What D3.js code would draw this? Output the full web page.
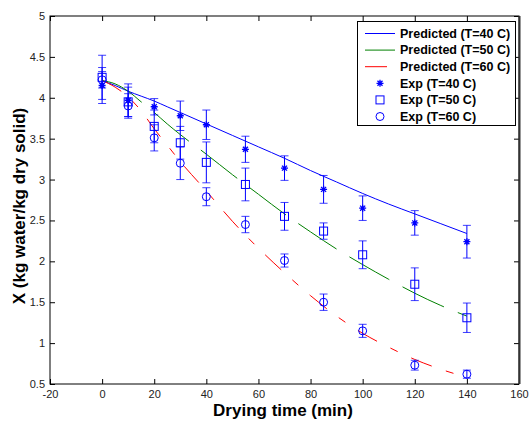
<!DOCTYPE html>
<html>
<head>
<meta charset="utf-8">
<script src="https://cdn.jsdelivr.net/npm/d3@7"></script>
<style>
  body { margin: 0; background: #fff; }
  svg { display: block; font-family: "Liberation Sans", Arial, sans-serif; }
</style>
</head>
<body>
<div id="chart"></div>
<script>
// experimental times (min)
const expTimes = [0, 10, 20, 30, 40, 55, 70, 85, 100, 120, 140];
const exp40 = [4.15, 3.97, 3.89, 3.78, 3.67, 3.37, 3.14, 2.88, 2.65, 2.47, 2.24];
const err40 = [0.22, 0.20, 0.10, 0.18, 0.18, 0.16, 0.15, 0.17, 0.15, 0.15, 0.20];
const exp50 = [4.25, 3.95, 3.65, 3.45, 3.21, 2.94, 2.55, 2.37, 2.08, 1.72, 1.31];
const err50 = [0.27, 0.18, 0.20, 0.20, 0.25, 0.20, 0.17, 0.10, 0.17, 0.20, 0.18];
const exp60 = [4.22, 3.90, 3.51, 3.20, 2.79, 2.45, 2.01, 1.50, 1.15, 0.73, 0.62];
const err60 = [0.10, 0.15, 0.16, 0.20, 0.11, 0.10, 0.08, 0.10, 0.08, 0.06, 0.05];

// model curves
const predTimes = [0, 5, 10, 15, 20, 25, 30, 40, 50, 60, 70, 80, 90, 100, 110, 120, 130, 140];
const pred40 = [4.21, 4.15, 4.08, 4.02, 3.96, 3.89, 3.82, 3.68, 3.54, 3.40, 3.26, 3.11, 2.97, 2.83, 2.70, 2.58, 2.46, 2.34];
const pred50 = [4.21, 4.17, 4.08, 3.95, 3.82, 3.68, 3.55, 3.31, 3.06, 2.82, 2.58, 2.36, 2.15, 1.96, 1.78, 1.61, 1.46, 1.33];
const predTimes60 = [0, 5, 10, 15, 20, 25, 30, 40, 50, 60, 70, 80, 90, 100, 110, 120, 130, 138];
const pred60 = [4.21, 4.13, 4.01, 3.84, 3.62, 3.42, 3.22, 2.86, 2.49, 2.16, 1.86, 1.58, 1.33, 1.12, 0.95, 0.80, 0.68, 0.60];

const xTicks = [-20, 0, 20, 40, 60, 80, 100, 120, 140, 160];
const yTicks = [0.5, 1, 1.5, 2, 2.5, 3, 3.5, 4, 4.5, 5];

const legendLabels = ["Predicted (T=40 C)", "Predicted (T=50 C)", "Predicted (T=60 C)",
  "Exp (T=40 C)", "Exp (T=50 C)", "Exp (T=60 C)"];

const W = 529, H = 421;
const plot = { left: 50, right: 519, top: 16, bottom: 384 };

const svg = d3.select("#chart").append("svg")
  .attr("width", W).attr("height", H);

const x = d3.scaleLinear().domain([-20, 160]).range([plot.left, plot.right]);
const y = d3.scaleLinear().domain([0.5, 5]).range([plot.bottom, plot.top]);

const blue = "#0000ff", green = "#008000", red = "#ff0000";

// axes (MATLAB style, ticks inward)
const fmt = d => String(d);
svg.append("g")
  .attr("transform", `translate(0,${plot.bottom})`)
  .call(d3.axisBottom(x).tickValues(xTicks).tickSizeInner(-5).tickSizeOuter(0).tickPadding(6).tickFormat(fmt))
  .call(g => g.select(".domain").remove());
svg.append("g")
  .attr("transform", `translate(0,${plot.top})`)
  .call(d3.axisTop(x).tickValues(xTicks).tickSizeInner(-5).tickSizeOuter(0).tickFormat(""))
  .call(g => g.select(".domain").remove());
svg.append("g")
  .attr("transform", `translate(${plot.left},0)`)
  .call(d3.axisLeft(y).tickValues(yTicks).tickSizeInner(-5).tickSizeOuter(0).tickPadding(5).tickFormat(fmt))
  .call(g => g.select(".domain").remove());
svg.append("g")
  .attr("transform", `translate(${plot.right},0)`)
  .call(d3.axisRight(y).tickValues(yTicks).tickSizeInner(-5).tickSizeOuter(0).tickFormat(""))
  .call(g => g.select(".domain").remove());

svg.selectAll(".tick text").attr("font-size", 11).attr("fill", "#222")
  .attr("font-family", "Liberation Sans, Arial, sans-serif");
svg.selectAll(".tick line").attr("stroke", "#000");

// frame
svg.append("rect")
  .attr("x", plot.left).attr("y", plot.top)
  .attr("width", plot.right - plot.left).attr("height", plot.bottom - plot.top)
  .attr("fill", "none").attr("stroke", "#000").attr("stroke-width", 1);
svg.append("line")
  .attr("x1", plot.right + 0.5).attr("x2", plot.right + 0.5)
  .attr("y1", plot.top).attr("y2", plot.bottom)
  .attr("stroke", "#333").attr("stroke-width", 2);

// model lines
const line = d3.line().curve(d3.curveMonotoneX);
function drawLine(ts, vs, color, dash) {
  svg.append("path")
    .attr("d", line(ts.map((t, i) => [x(t), y(vs[i])])))
    .attr("fill", "none").attr("stroke", color).attr("stroke-width", 1)
    .attr("stroke-dasharray", dash);
}
drawLine(predTimes, pred40, blue, null);
drawLine(predTimes, pred50, green, "46,15");
drawLine(predTimes60, pred60, red, "22,15,8,15");

// markers
function starPath(cx, cy, r) {
  const d = r * 0.72;
  return `M${cx - r},${cy}L${cx + r},${cy}M${cx},${cy - r}L${cx},${cy + r}` +
    `M${cx - d},${cy - d}L${cx + d},${cy + d}M${cx - d},${cy + d}L${cx + d},${cy - d}`;
}
function drawMarker(g, kind, cx, cy) {
  if (kind === "star") {
    g.append("path").attr("d", starPath(cx, cy, 3.5))
      .attr("stroke", blue).attr("stroke-width", 1.3).attr("fill", "none");
  } else if (kind === "square") {
    g.append("rect").attr("x", cx - 4).attr("y", cy - 4).attr("width", 8).attr("height", 8)
      .attr("fill", "none").attr("stroke", blue).attr("stroke-width", 1);
  } else {
    g.append("circle").attr("cx", cx).attr("cy", cy).attr("r", 4)
      .attr("fill", "none").attr("stroke", blue).attr("stroke-width", 1);
  }
}

function drawExp(vals, errs, kind) {
  const g = svg.append("g");
  expTimes.forEach((t, i) => {
    const cx = x(t), y0 = y(vals[i] - errs[i]), y1 = y(vals[i] + errs[i]);
    g.append("line").attr("x1", cx).attr("x2", cx).attr("y1", y0).attr("y2", y1)
      .attr("stroke", blue).attr("stroke-width", 1);
    [y0, y1].forEach(yy => g.append("line")
      .attr("x1", cx - 4).attr("x2", cx + 4).attr("y1", yy).attr("y2", yy)
      .attr("stroke", blue).attr("stroke-width", 1).attr("opacity", 0.75));
    drawMarker(g, kind, cx, y(vals[i]));
  });
}
drawExp(exp40, err40, "star");
drawExp(exp50, err50, "square");
drawExp(exp60, err60, "circle");

// legend
const lg = svg.append("g");
lg.append("rect").attr("x", 357.5).attr("y", 21.5).attr("width", 158).attr("height", 104)
  .attr("fill", "#fff").attr("stroke", "#000").attr("stroke-width", 1);
const rowY = i => 33.5 + i * 16.6;
const legendStyles = [
  { color: blue, len: 30 }, { color: green, len: 30 }, { color: red, len: 22 },
  { kind: "star" }, { kind: "square" }, { kind: "circle" }
];
legendLabels.forEach((lab, i) => {
  const s = legendStyles[i];
  if (s.color) {
    lg.append("line").attr("x1", 365).attr("x2", 365 + s.len)
      .attr("y1", rowY(i)).attr("y2", rowY(i)).attr("stroke", s.color).attr("stroke-width", 1);
  } else {
    drawMarker(lg, s.kind, 380, rowY(i));
  }
  lg.append("text").attr("x", 400).attr("y", rowY(i)).attr("dy", "0.35em")
    .attr("font-size", 12.5).attr("font-weight", "bold").attr("fill", "#000").text(lab);
});

// axis titles
svg.append("text").attr("x", 283).attr("y", 416).attr("text-anchor", "middle")
  .attr("font-size", 17).attr("font-weight", "bold").text("Drying time (min)");
svg.append("text").attr("transform", "translate(25,206) rotate(-90)").attr("text-anchor", "middle")
  .attr("font-size", 17).attr("font-weight", "bold").text("X (kg water/kg dry solid)");
</script>
</body>
</html>
